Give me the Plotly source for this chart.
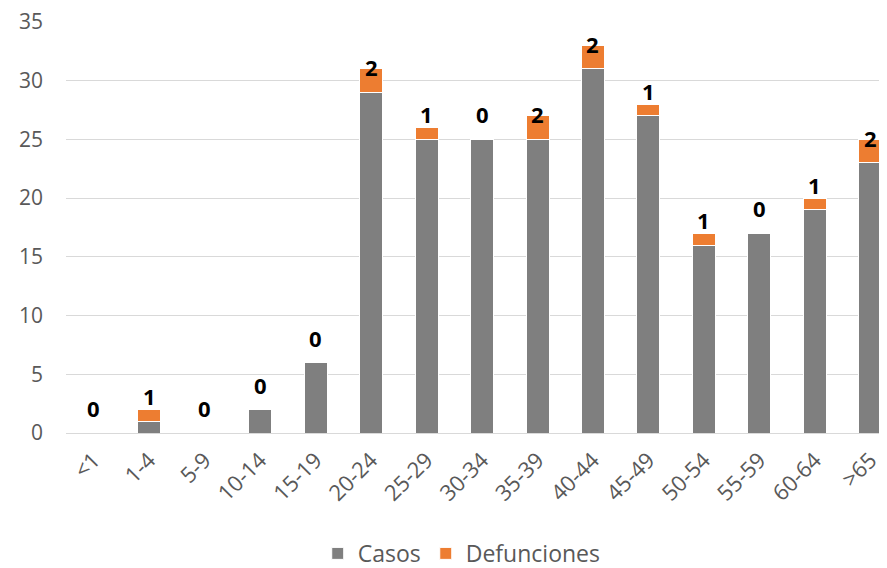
import plotly.graph_objects as go

categorias = ["<1", "1-4", "5-9", "10-14", "15-19", "20-24", "25-29", "30-34",
              "35-39", "40-44", "45-49", "50-54", "55-59", "60-64", ">65"]
casos = [0, 1, 0, 2, 6, 29, 25, 25, 25, 31, 27, 16, 17, 19, 23]
defunciones = [0, 1, 0, 0, 0, 2, 1, 0, 2, 2, 1, 1, 0, 1, 2]
y_ticks = [0, 5, 10, 15, 20, 25, 30, 35]

FONT = "Open Sans"
GRAY_TXT = "#595959"

fig = go.Figure()
fig.add_trace(go.Bar(
    x=categorias, y=casos, name="Casos",
    marker=dict(color="#7F7F7F", line=dict(color="#FFFFFF", width=1)),
))
fig.add_trace(go.Bar(
    x=categorias, y=defunciones, name="Defunciones",
    marker=dict(color="#ED7D31", line=dict(color="#FFFFFF", width=1)),
))

# data labels (defunciones), placed above the base of the Defunciones segment
for cat, c, d in zip(categorias, casos, defunciones):
    fig.add_annotation(
        x=cat, y=c, xref="x", yref="y", text=str(d), showarrow=False,
        yanchor="middle", yshift=25,
        font=dict(family=FONT, size=22, color="#000000", weight="bold"),
    )

fig.update_layout(
    width=879, height=560,
    barmode="stack", bargap=0.585,
    paper_bgcolor="white", plot_bgcolor="white",
    margin=dict(l=58, r=0, t=14, b=135),
    font=dict(family=FONT, color=GRAY_TXT, size=21),
    legend=dict(orientation="h", x=0.482, xanchor="center",
                yref="container", y=0.026, yanchor="middle",
                font=dict(family=FONT, size=23, color=GRAY_TXT),
                itemwidth=30, traceorder="normal"),
    showlegend=True,
)
fig.update_xaxes(
    range=[-0.5, 14.3],
    tickangle=-45, tickfont=dict(family=FONT, size=22, color=GRAY_TXT),
    showgrid=False, showline=False, ticks="", automargin=False, ticklabelstandoff=9,
)
fig.update_yaxes(
    range=[0, 35], tickvals=y_ticks, showgrid=True, gridcolor="#D9D9D9", gridwidth=1,
    zeroline=True, zerolinecolor="#D9D9D9", zerolinewidth=1, automargin=False,
    ticklabeloverflow="allow",
    tickfont=dict(family=FONT, size=21, color=GRAY_TXT), ticks="", ticklabelstandoff=22,
)

fig.write_html("out.html")
